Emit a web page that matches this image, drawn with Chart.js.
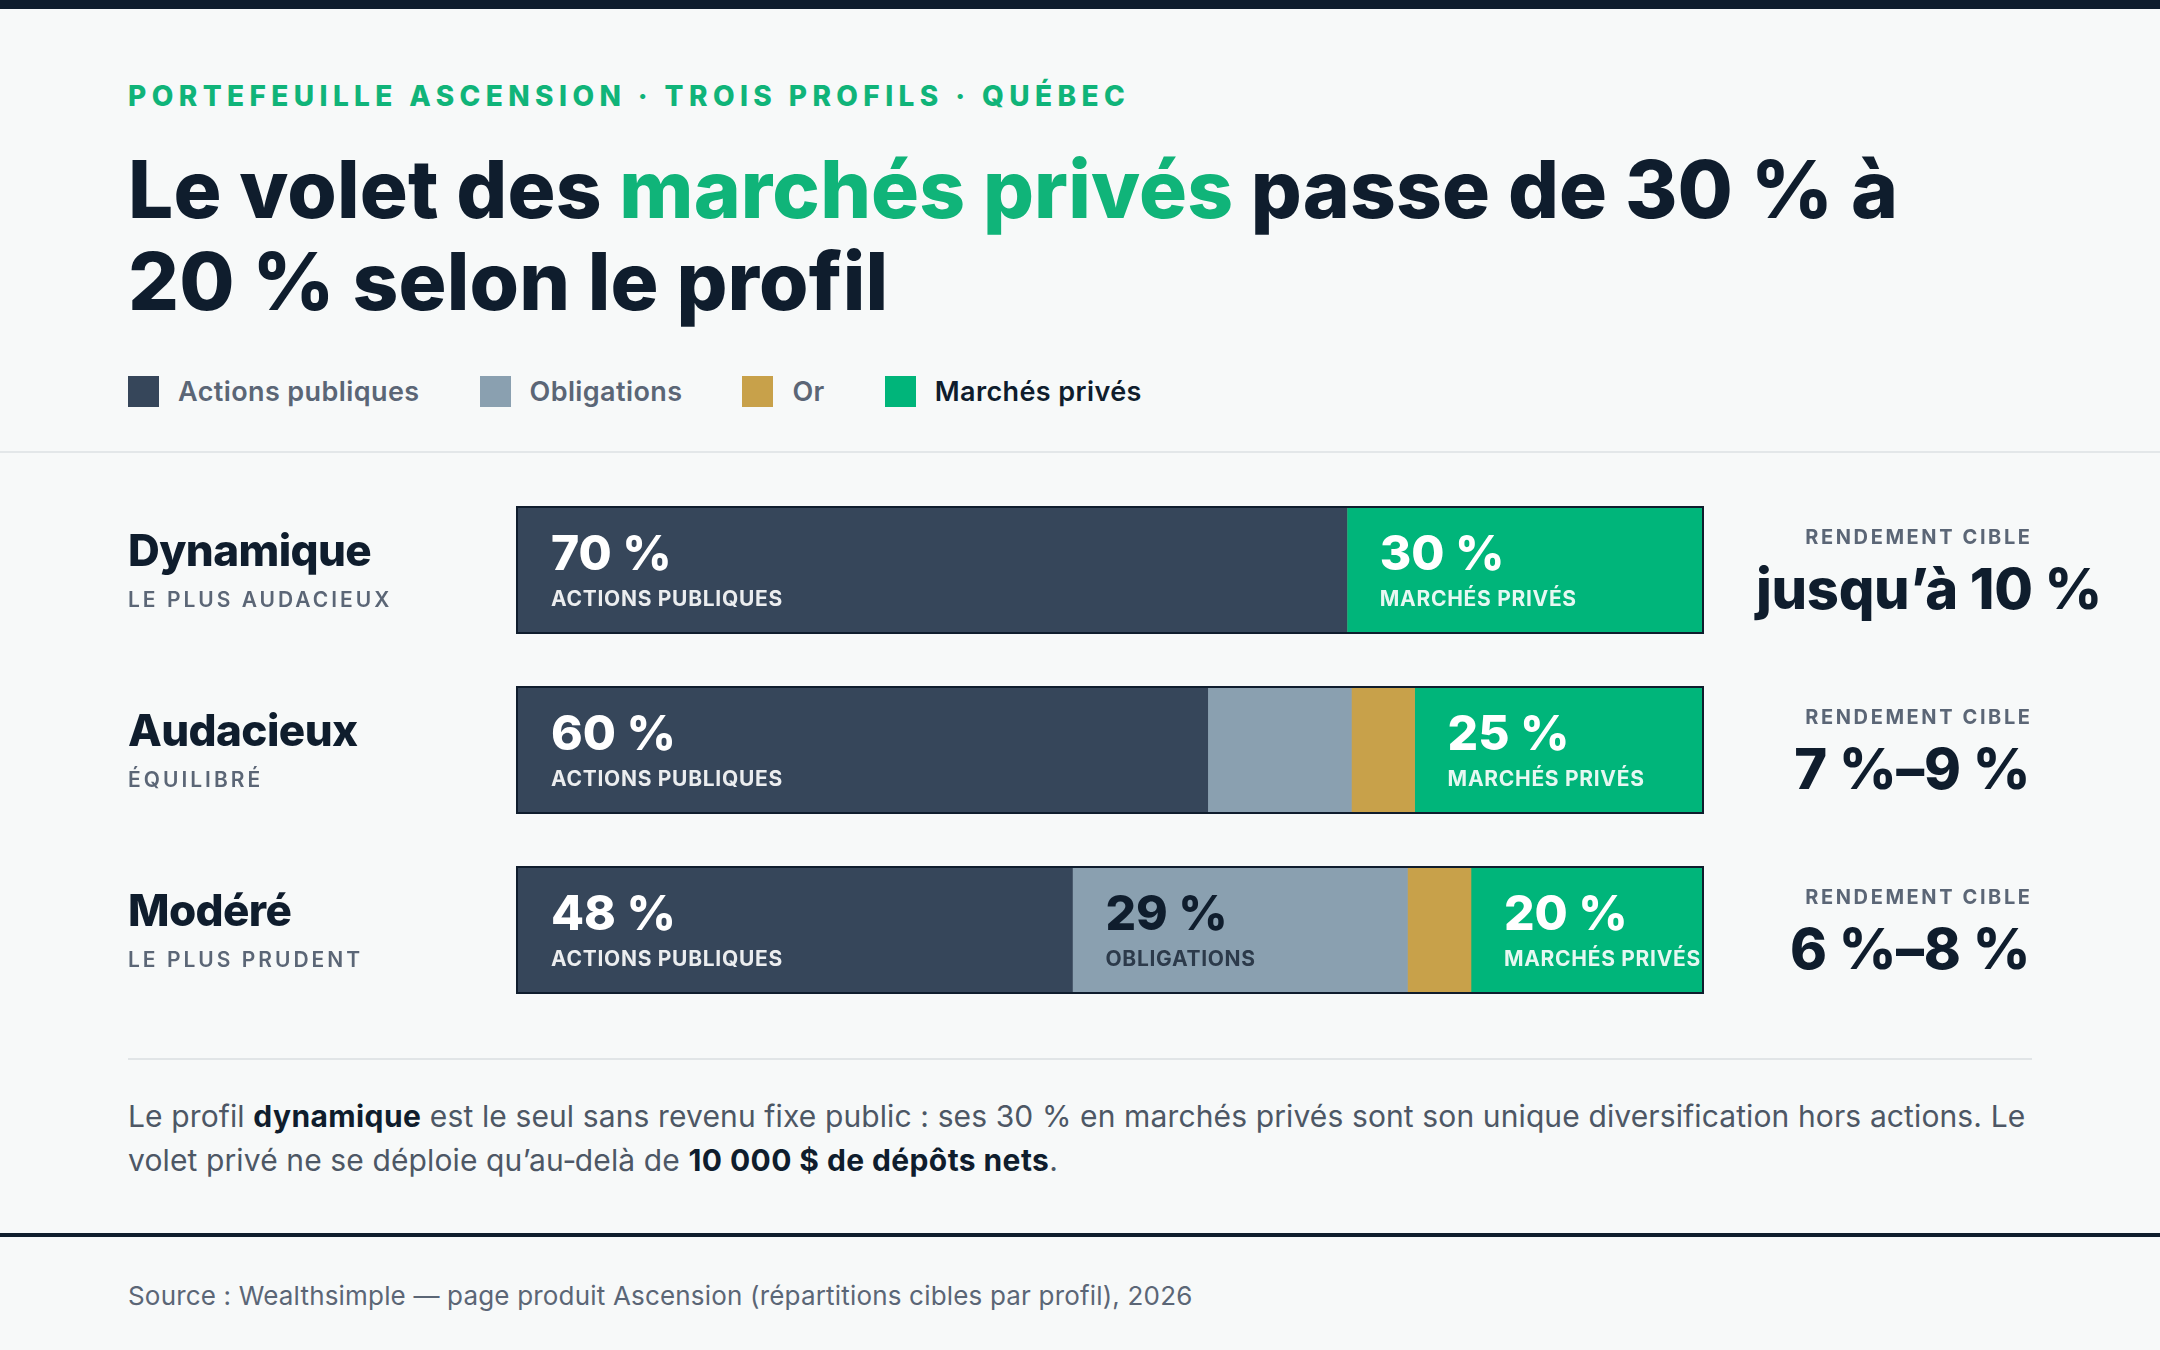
<!DOCTYPE html>
<html lang="fr">
<head>
<meta charset="utf-8">
<title>Portefeuille Ascension</title>
<script src="https://cdn.jsdelivr.net/npm/chart.js@4.4.1/dist/chart.umd.min.js"></script>
<style>
  html, body { margin: 0; padding: 0; }
  body {
    width: 2160px; height: 1350px; position: relative; overflow: hidden;
    background: #f7f9f9; font-family: Inter, "Noto Sans", sans-serif; color: #0f1d2d;
  }
  .topbar { position: absolute; left: 0; top: 0; width: 2160px; height: 9px; background: #0f1d2d; }
  .eyebrow {
    position: absolute; left: 128px; top: 82px; font-size: 28px; line-height: 28px;
    font-weight: 800; letter-spacing: 5.4px; color: #10b479; white-space: nowrap;
  }
  h1 {
    position: absolute; left: 128px; top: 143px; margin: 0; width: 1980px;
    font-size: 80px; line-height: 92px; font-weight: 800; letter-spacing: 0.15px;
  }
  h1 em { font-style: normal; color: #10b479; }
  .legend { position: absolute; left: 128px; top: 376px; display: flex; }
  .legend .item { display: flex; align-items: center; margin-right: 60px; height: 31px; }
  .legend .sw { width: 31px; height: 31px; margin-right: 19px; }
  .legend .lab { font-size: 27px; line-height: 31px; font-weight: 600; color: #5b6676; letter-spacing: 0.4px; }
  .legend .item.on .lab { color: #0f1d2d; }
  .rule { position: absolute; left: 0; top: 451px; width: 2160px; height: 2px; background: #e3e7e9; }
  #wrap { position: absolute; left: 0; top: 480px; width: 2160px; height: 540px; }
  .divider { position: absolute; left: 128px; top: 1058px; width: 1904px; height: 2px; background: #e1e5e7; }
  .note {
    position: absolute; left: 128px; top: 1094px; width: 1960px; margin: 0;
    font-size: 30px; line-height: 44px; color: #4d5765; font-weight: 400; letter-spacing: 0.12px;
  }
  .note b { color: #0f1d2d; font-weight: 700; letter-spacing: 0.4px; }
  .footrule { position: absolute; left: 0; top: 1233px; width: 2160px; height: 4px; background: #0f1d2d; }
  .source { position: absolute; left: 128px; top: 1283px; font-size: 26px; line-height: 26px; color: #5b6676; letter-spacing: 0.18px; }
</style>
</head>
<body>
<div class="topbar"></div>
<div class="eyebrow">PORTEFEUILLE ASCENSION · TROIS PROFILS · QUÉBEC</div>
<h1>Le volet des <em>marchés privés</em> passe de 30 % à<br>20 % selon le profil</h1>
<div class="legend" id="legend"></div>
<div class="rule"></div>
<div id="wrap"><canvas id="chart" width="2160" height="540"></canvas></div>
<div class="divider"></div>
<p class="note">Le profil <b>dynamique</b> est le seul sans revenu fixe public : ses 30 % en marchés privés sont son unique diversification hors actions. Le<br>volet privé ne se déploie qu’au‑delà de <b>10 000 $ de dépôts nets</b>.</p>
<div class="footrule"></div>
<div class="source">Source : Wealthsimple — page produit Ascension (répartitions cibles par profil), 2026</div>

<script>
  // profils (lignes)
  var profiles = ['Dynamique', 'Audacieux', 'Modéré'];
  var profileNotes = ['LE PLUS AUDACIEUX', 'ÉQUILIBRÉ', 'LE PLUS PRUDENT'];
  var targetReturns = ['jusqu’à 10 %', '7 %–9 %', '6 %–8 %'];

  var seriesNames = ['Actions publiques', 'Obligations', 'Or', 'Marchés privés'];
  var segmentNames = ['ACTIONS PUBLIQUES', 'OBLIGATIONS', 'OR', 'MARCHÉS PRIVÉS'];
  var actions = [70, 60, 48];
  var obligations = [0, 12.5, 29];
  var or = [0, 5.5, 5.5];
  var prives = [30, 25, 20];

  var colors = ['#36465a', '#8aa0b0', '#c8a14a', '#00b57a'];
  var ink = '#0f1d2d', muted = '#5b6676';

  var raw = [actions, obligations, or, prives];
  var totals = profiles.map(function (p, i) {
    return raw.reduce(function (s, arr) { return s + arr[i]; }, 0);
  });

  // légende html
  var legend = document.getElementById('legend');
  seriesNames.forEach(function (name, k) {
    var it = document.createElement('div');
    it.className = 'item' + (k === 3 ? ' on' : '');
    it.innerHTML = '<span class="sw" style="background:' + colors[k] + '"></span><span class="lab">' + name + '</span>';
    legend.appendChild(it);
  });

  var BAR = 124;

  var barDecor = {
    id: 'barDecor',
    afterDatasetsDraw: function (chart) {
      var ctx = chart.ctx;
      var xs = chart.scales.x, ys = chart.scales.y;
      var left = xs.getPixelForValue(0), right = xs.getPixelForValue(100);

      profiles.forEach(function (p, i) {
        var cy = ys.getPixelForValue(i);
        var top = cy - BAR / 2 - 2; // bord extérieur

        // étiquettes des segments
        raw.forEach(function (arr, k) {
          var el = chart.getDatasetMeta(k).data[i];
          var share = arr[i] / totals[i] * 100;
          if (share < 15) return;
          var x0 = Math.min(el.base, el.x) + 33;
          var light = k !== 1;
          ctx.save();
          ctx.textAlign = 'left';
          ctx.textBaseline = 'alphabetic';
          ctx.fillStyle = light ? '#ffffff' : ink;
          ctx.font = '800 48px Inter';
          ctx.letterSpacing = '0px';
          ctx.fillText(Math.round(arr[i]) + ' %', x0, top + 64);
          ctx.fillStyle = light ? 'rgba(255,255,255,0.9)' : '#2c3a4a';
          ctx.font = '700 21px Inter';
          ctx.letterSpacing = '0.7px';
          ctx.fillText(segmentNames[k], x0, top + 100);
          ctx.restore();
        });

        // contour de la barre
        ctx.save();
        ctx.strokeStyle = ink;
        ctx.lineWidth = 2;
        ctx.strokeRect(left - 1, top + 1, right - left + 2, BAR + 2);
        ctx.restore();

        // nom du profil
        ctx.save();
        ctx.textAlign = 'left';
        ctx.fillStyle = ink;
        ctx.font = '800 44px Inter';
        ctx.letterSpacing = '-0.6px';
        ctx.fillText(p, 128, top + 60);
        ctx.fillStyle = muted;
        ctx.font = '600 21px Inter';
        ctx.letterSpacing = '3px';
        ctx.fillText(profileNotes[i], 128, top + 101);
        ctx.restore();

        // rendement cible
        var colL = 1756, colR = 2030;
        ctx.save();
        ctx.fillStyle = muted;
        ctx.font = '700 20px Inter';
        ctx.letterSpacing = '2.6px';
        ctx.textAlign = 'right';
        ctx.fillText('RENDEMENT CIBLE', colR + 2.6, top + 38);
        ctx.fillStyle = ink;
        ctx.font = '800 56px Inter';
        ctx.letterSpacing = '-0.3px';
        var w = ctx.measureText(targetReturns[i]).width;
        ctx.textAlign = 'left';
        ctx.fillText(targetReturns[i], w > colR - colL ? colL : colR - w, top + 103);
        ctx.restore();
      });
    }
  };

  new Chart(document.getElementById('chart'), {
    type: 'bar',
    data: {
      labels: profiles,
      datasets: raw.map(function (arr, k) {
        return {
          label: seriesNames[k],
          data: arr.map(function (v, i) { return v / totals[i] * 100; }),
          backgroundColor: colors[k],
          borderWidth: 0,
          borderSkipped: false,
          barThickness: BAR
        };
      })
    },
    options: {
      indexAxis: 'y',
      responsive: false,
      devicePixelRatio: 1,
      animation: false,
      layout: { padding: { left: 518, right: 458, top: 0, bottom: 0 } },
      scales: {
        x: { stacked: true, min: 0, max: 100, display: false },
        y: { stacked: true, display: false }
      },
      plugins: {
        legend: { display: false },
        tooltip: { enabled: false }
      }
    },
    plugins: [barDecor]
  });
</script>
</body>
</html>
